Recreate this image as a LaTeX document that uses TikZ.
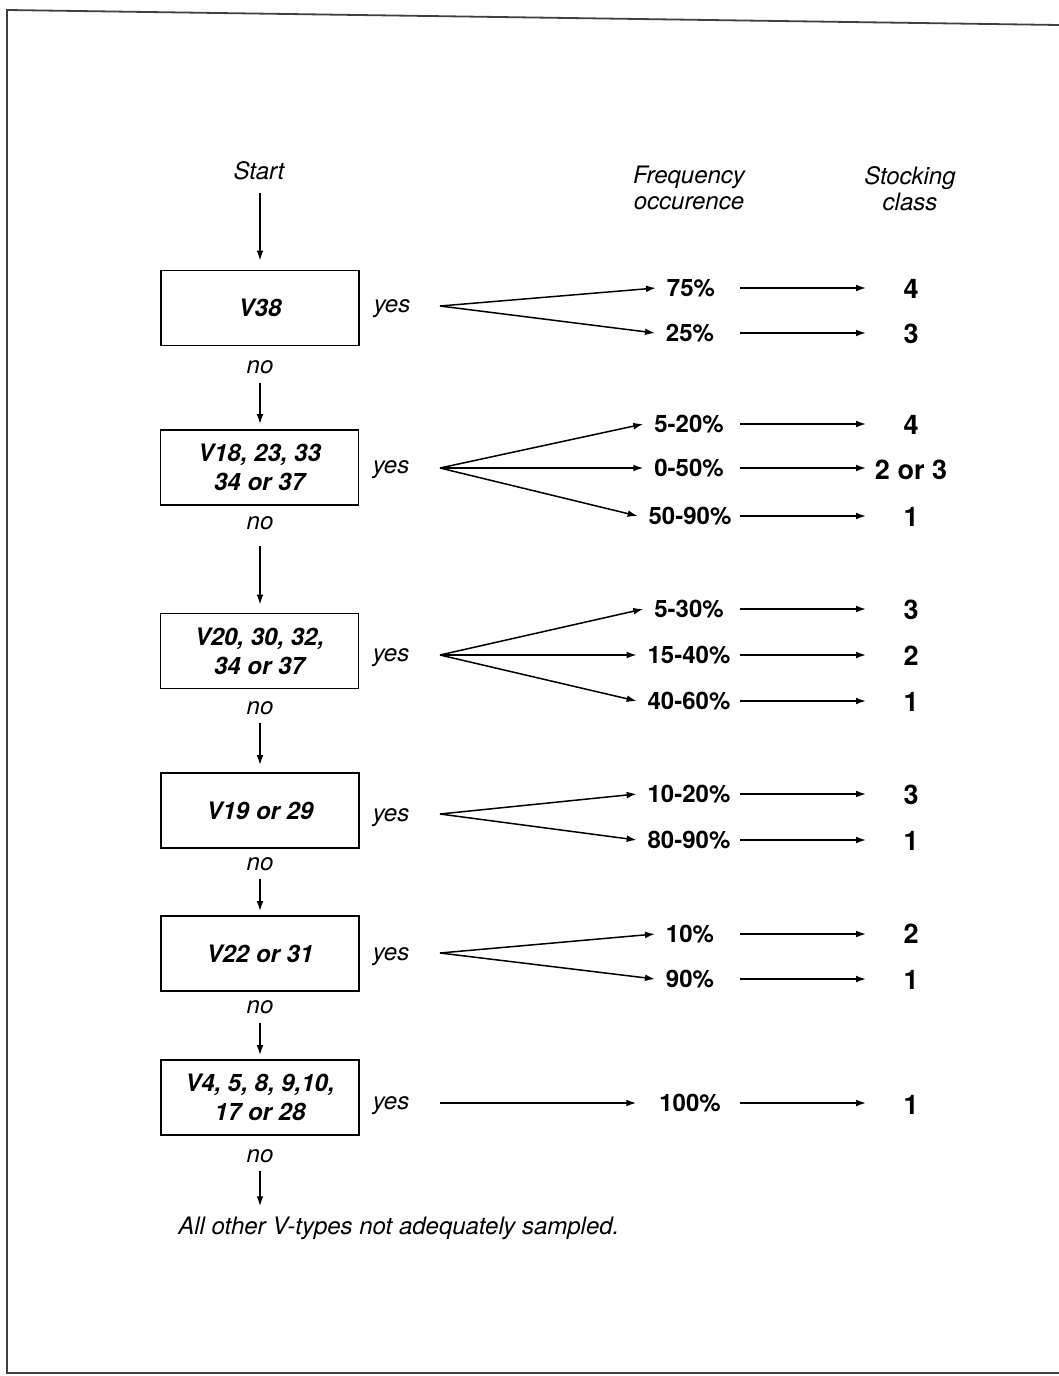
\documentclass[tikz,border=0pt]{standalone}
\usepackage{fontspec}
\setmainfont{TeX Gyre Heros}
\usetikzlibrary{arrows.meta}
\begin{document}
\begin{tikzpicture}[x=0.5pt,y=-0.5pt,
  box/.style={draw, line width=0.9pt, minimum width=99pt, minimum height=37.5pt, inner sep=0pt,
    align=center, font=\fontsize{12}{14.5}\selectfont\bfseries\itshape},
  lbl/.style={inner sep=1pt, font=\fontsize{12}{14}\selectfont\itshape},
  hdr/.style={inner sep=0pt, align=center, font=\fontsize{12}{12.8}\selectfont\itshape},
  pct/.style={inner sep=0pt, outer sep=5.5pt, font=\fontsize{12}{14}\selectfont\bfseries},
  cls/.style={inner sep=0pt, font=\fontsize{13.5}{15}\selectfont\bfseries},
  arr/.style={-{Latex[length=5pt,width=3.4pt]}, line width=0.75pt},
  frame/.style={line width=0.9pt, draw=black!75}]
\useasboundingbox (0,0) rectangle (1059,1376);
% frame
\draw[frame] (1059,25) -- (7,10) -- (7,1373) -- (1059,1373);

% left column
\node[lbl] (start) at (259,171) {Start};
\node[box] (b1) at (260,308) {V38};
\node[box] (b2) at (259.5,467.5) {V18, 23, 33\\34 or 37};
\node[box] (b3) at (259.5,651) {V20, 30, 32,\\34 or 37};
\node[box] (b4) at (260,810.5) {V19 or 29};
\node[box] (b5) at (260,953.5) {V22 or 31};
\node[box] (b6) at (260,1097.5) {V4, 5, 8, 9,10,\\17 or 28};

\node[lbl] (n1) at (260,367) {no};
\node[lbl] (n2) at (260,523) {no};
\node[lbl] (n3) at (260,708) {no};
\node[lbl] (n4) at (260,864) {no};
\node[lbl] (n5) at (260,1007) {no};
\node[lbl] (n6) at (260,1156) {no};
\node[lbl, anchor=west] (other) at (176,1228) {All other V-types not adequately sampled.};

\draw[arr, shorten <=5pt, shorten >=4.5pt] (start.south -| b1.north) -- (b1.north);
\draw[arr, shorten <=3.5pt, shorten >=2.5pt] (n1.south) -- (n1.south |- b2.north);
\draw[arr, shorten <=7pt, shorten >=4pt] (n2.south) -- (n2.south |- b3.north);
\draw[arr, shorten <=3pt, shorten >=3.5pt] (n3.south) -- (n3.south |- b4.north);
\draw[arr, shorten <=3pt, shorten >=2pt] (n4.south) -- (n4.south |- b5.north);
\draw[arr, shorten <=3.5pt, shorten >=2pt] (n5.south) -- (n5.south |- b6.north);
\draw[arr, shorten <=3pt, shorten >=4pt] (n6.south) -- (n6.south |- other.north);

% yes labels and branch points
\node[lbl] (y1) at (392,309) {yes};
\node[lbl] (y2) at (391,470) {yes};
\node[lbl] (y3) at (391,658) {yes};
\node[lbl] (y4) at (391,818) {yes};
\node[lbl] (y5) at (391,957) {yes};
\node[lbl] (y6) at (391,1106) {yes};
\coordinate (br1) at (440,306);
\coordinate (br2) at (440,468);
\coordinate (br3) at (440,655);
\coordinate (br4) at (440,814);
\coordinate (br5) at (440,953);
\coordinate (br6) at (440,1103);

% headers
\node[hdr] (hf) at (689,188) {Frequency\\occurence};
\node[hdr] (hs) at (910,189) {Stocking\\class};

% column coordinates
\coordinate (colA) at (740,0);
\coordinate (colB) at (866,0);

% percentages
\node[pct] (p11) at (691,288) {75\%};
\node[pct] (p12) at (690,333) {25\%};
\node[pct] (p21) at (689,424) {5-20\%};
\node[pct] (p22) at (689,468) {0-50\%};
\node[pct] (p23) at (690,516) {50-90\%};
\node[pct] (p31) at (689,609) {5-30\%};
\node[pct] (p32) at (689,655) {15-40\%};
\node[pct] (p33) at (689,701) {40-60\%};
\node[pct] (p41) at (689,794) {10-20\%};
\node[pct] (p42) at (689,840) {80-90\%};
\node[pct] (p51) at (690,934) {10\%};
\node[pct] (p52) at (690,979) {90\%};
\node[pct] (p61) at (690,1103) {100\%};

% classes
\node[cls] (c11) at (911,289) {4};
\node[cls] (c12) at (911,334) {3};
\node[cls] (c21) at (911,425) {4};
\node[cls] (c22) at (911,470) {2 or 3};
\node[cls] (c23) at (911,517) {1};
\node[cls] (c31) at (911,610) {3};
\node[cls] (c32) at (911,656) {2};
\node[cls] (c33) at (911,702) {1};
\node[cls] (c41) at (911,795) {3};
\node[cls] (c42) at (911,841) {1};
\node[cls] (c51) at (911,934) {2};
\node[cls] (c52) at (911,980) {1};
\node[cls] (c61) at (911,1105) {1};

% branch arrows
\foreach \b/\p in {br1/p11, br1/p12, br2/p21, br2/p22, br2/p23, br3/p31, br3/p32, br3/p33,
                   br4/p41, br4/p42, br5/p51, br5/p52}
  \draw[arr] (\b) -- (\p.west);
\draw[arr, shorten >=6pt] (br6) -- (p61.west);

% right arrows
\foreach \p/\c in {p11/c11, p12/c12, p21/c21, p22/c22, p23/c23, p31/c31, p32/c32, p33/c33,
                   p41/c41, p42/c42, p51/c51, p52/c52, p61/c61}
  \draw[arr] (\p.center -| colA) -- (\p.center -| colB);
\end{tikzpicture}
\end{document}
